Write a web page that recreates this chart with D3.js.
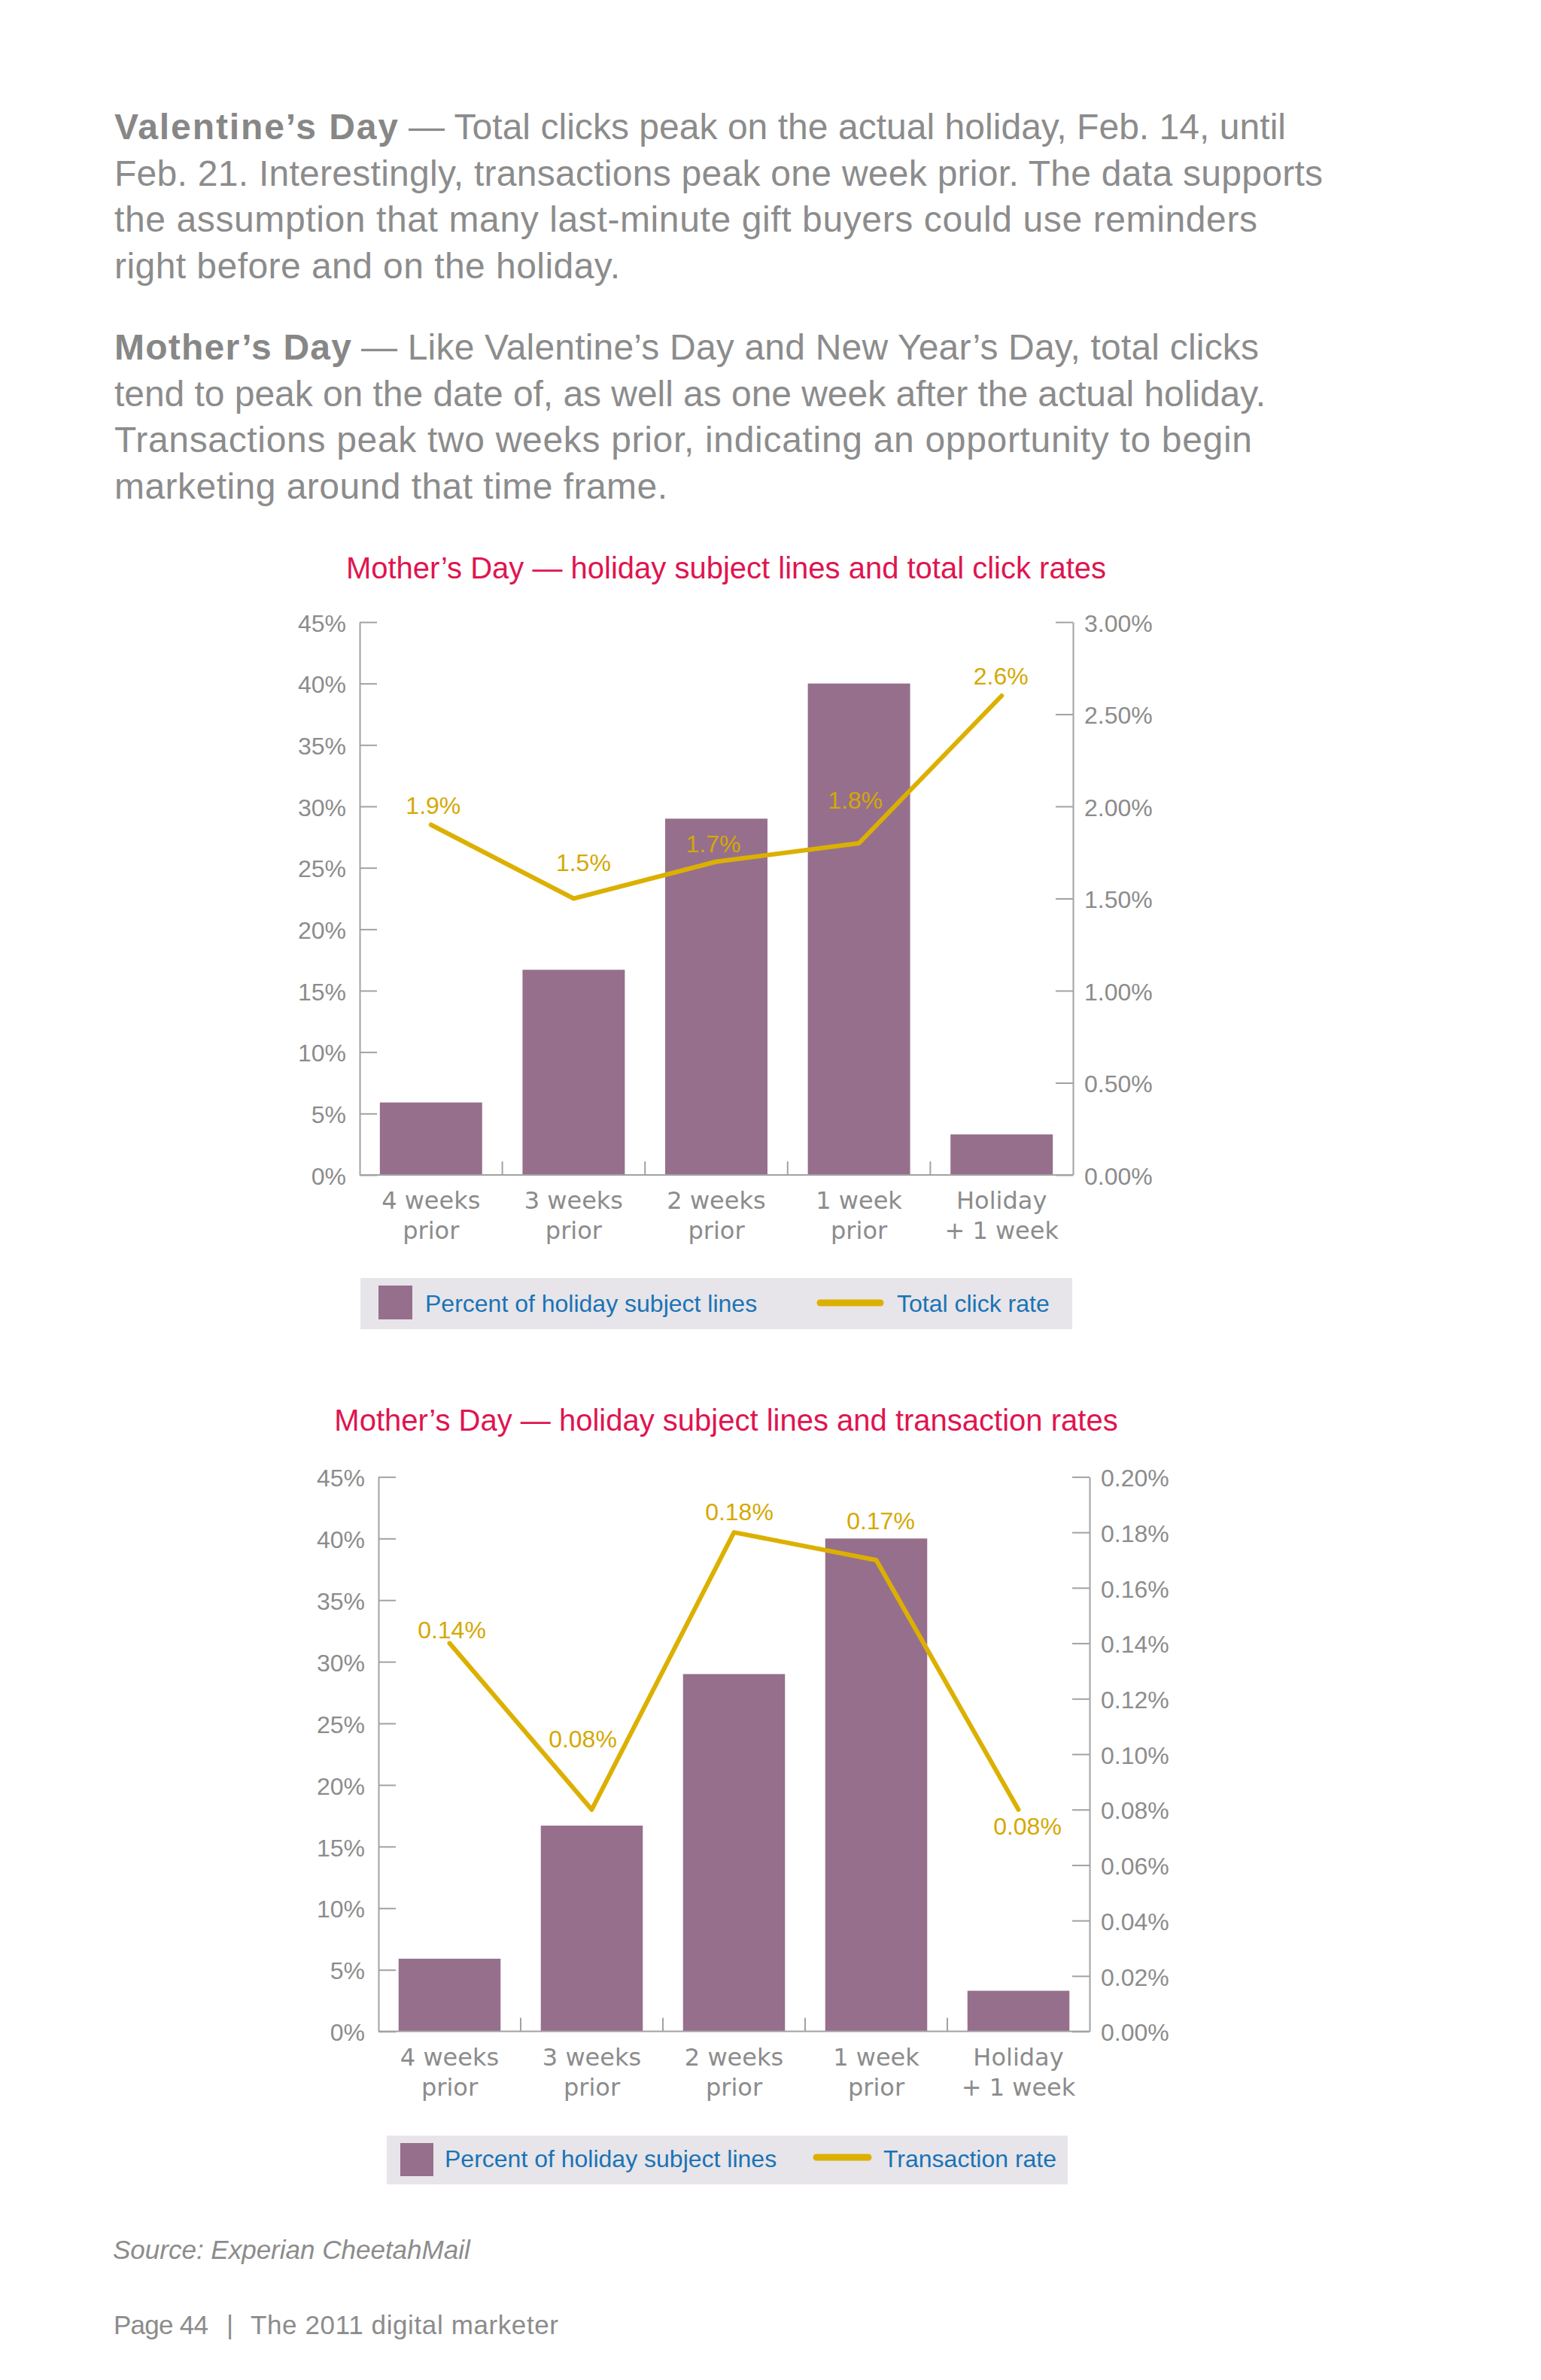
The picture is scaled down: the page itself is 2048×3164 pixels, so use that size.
<!DOCTYPE html>
<html><head><meta charset="utf-8">
<script src="https://cdn.jsdelivr.net/npm/d3@7"></script>
<style>
html,body{margin:0;padding:0;background:#fff;}
svg{display:block;}
</style></head><body>
<svg id="page" width="2048" height="3164"></svg>
<script>
// ---------- DATA ----------
const categories = [["4 weeks","prior"],["3 weeks","prior"],["2 weeks","prior"],["1 week","prior"],["Holiday","+ 1 week"]];
const subjectLinePct = [5.9, 16.7, 29.0, 40.0, 3.3];
const totalClickRate = [1.9, 1.5, 1.7, 1.8, 2.6];
const transactionRate = [0.14, 0.08, 0.18, 0.17, 0.08];
const leftTicks = [0, 5, 10, 15, 20, 25, 30, 35, 40, 45];
const clickTicks = [0, 0.5, 1.0, 1.5, 2.0, 2.5, 3.0];
const transTicks = [0, 0.02, 0.04, 0.06, 0.08, 0.10, 0.12, 0.14, 0.16, 0.18, 0.20];
const clickLabels = ["1.9%", "1.5%", "1.7%", "1.8%", "2.6%"];
const transLabels = ["0.14%", "0.08%", "0.18%", "0.17%", "0.08%"];
const legendBarLabel = "Percent of holiday subject lines";
const title1 = "Mother\u2019s Day \u2014 holiday subject lines and total click rates";
const title2 = "Mother\u2019s Day \u2014 holiday subject lines and transaction rates";
const para1 = [
  [["Valentine\u2019s Day", true], ["\u2014 Total clicks peak on the actual holiday, Feb. 14, until", false]],
  [["Feb. 21. Interestingly, transactions peak one week prior. The data supports", false]],
  [["the assumption that many last-minute gift buyers could use reminders", false]],
  [["right before and on the holiday.", false]]
];
const para2 = [
  [["Mother\u2019s Day", true], ["\u2014 Like Valentine\u2019s Day and New Year\u2019s Day, total clicks", false]],
  [["tend to peak on the date of, as well as one week after the actual holiday.", false]],
  [["Transactions peak two weeks prior, indicating an opportunity to begin", false]],
  [["marketing around that time frame.", false]]
];
const sourceText = "Source: Experian CheetahMail";
const footerLeft = "Page 44";
const footerRight = "The 2011 digital marketer";

// ---------- LAYOUT (text spans: [startX, endX]) ----------
const para1Layout = [[[152, 529], [543, 1709]], [[152, 1758]], [[152, 1671]], [[152, 824]]];
const para2Layout = [[[152, 467], [480, 1673]], [[152, 1682]], [[152, 1664]], [[152, 887]]];

// ---------- STYLE ----------
const SANS = "'Liberation Sans', Arial, Helvetica, sans-serif";
const CAT = "'DejaVu Sans', sans-serif";
const GRAY = "#8c8c8c";
const AXIS = "#a2a2a2";
const BAR = "#966f8d";
const GOLD = "#dcb000";
const GOLDTXT = "#d5a800";
const TITLE = "#e01450";
const BLUE = "#1a73b6";
const LEGBG = "#e7e5e9";

const svg = d3.select("#page");
svg.append("rect").attr("width", 2048).attr("height", 3164).attr("fill", "#fff");

// ---------- PARAGRAPHS ----------
function drawPara(lines, layout, y0) {
  lines.forEach((segs, i) => {
    segs.forEach(([s, b], j) => {
      const [sx, ex] = layout[i][j];
      svg.append("text").attr("x", sx).attr("y", y0 + i * 61.5)
        .attr("font-family", SANS).attr("font-size", 48)
        .attr("font-weight", b ? "bold" : "normal")
        .attr("fill", b ? "#878787" : GRAY)
        .attr("textLength", ex - sx).attr("lengthAdjust", "spacing")
        .text(s);
    });
  });
}
drawPara(para1, para1Layout, 185);
drawPara(para2, para2Layout, 478);

// ---------- CHARTS ----------
function drawChart(cfg) {
  const g = svg.append("g");
  const n = categories.length;
  const x = d3.scaleBand().domain(d3.range(n)).range([cfg.x0, cfg.x1])
    .paddingInner(0.283).paddingOuter(0.1415);
  const bw = x.bandwidth();
  const step = x.step();
  const yL = d3.scaleLinear().domain([0, 45]).range([cfg.y0, cfg.yTop]);
  const yR = d3.scaleLinear().domain([0, cfg.rMax]).range([cfg.y0, cfg.yTop]);

  // title
  g.append("text").attr("x", cfg.titleX).attr("y", cfg.titleY).attr("text-anchor", "middle")
    .attr("font-family", SANS).attr("font-size", 40).attr("fill", TITLE).text(cfg.title);

  // bars
  g.selectAll("rect.bar").data(subjectLinePct).join("rect").attr("class", "bar")
    .attr("x", (d, i) => x(i)).attr("y", d => yL(d))
    .attr("width", bw).attr("height", d => yL(0) - yL(d)).attr("fill", BAR);

  // left axis
  const la = g.append("g").attr("transform", `translate(${cfg.x0},0)`)
    .call(d3.axisLeft(yL).tickValues(leftTicks).tickFormat(d => d + "%")
      .tickSizeInner(-23).tickSizeOuter(0).tickPadding(18));
  // right axis
  const ra = g.append("g").attr("transform", `translate(${cfg.x1},0)`)
    .call(d3.axisRight(yR).tickValues(cfg.rTicks).tickFormat(cfg.rFmt)
      .tickSizeInner(-23).tickSizeOuter(0).tickPadding(15));
  [la, ra].forEach(a => {
    a.select(".domain").attr("stroke", AXIS).attr("stroke-width", 2);
    a.selectAll(".tick line").attr("stroke", AXIS).attr("stroke-width", 2);
    a.selectAll(".tick text").attr("font-family", SANS).attr("font-size", 32)
      .attr("fill", GRAY).attr("dy", "0.38em");
  });

  // baseline + category ticks
  g.append("line").attr("x1", cfg.x0).attr("x2", cfg.x1).attr("y1", cfg.y0).attr("y2", cfg.y0)
    .attr("stroke", AXIS).attr("stroke-width", 2);
  g.selectAll("line.ct").data(d3.range(1, n)).join("line").attr("class", "ct")
    .attr("x1", k => cfg.x0 + k * step).attr("x2", k => cfg.x0 + k * step)
    .attr("y1", cfg.y0).attr("y2", cfg.y0 - 18).attr("stroke", AXIS).attr("stroke-width", 2);

  // category labels
  const cl = g.selectAll("text.cat").data(categories).join("text").attr("class", "cat")
    .attr("text-anchor", "middle").attr("font-family", CAT).attr("font-size", 32).attr("fill", GRAY);
  cl.each(function(d, i) {
    const t = d3.select(this);
    d.forEach((s, j) => t.append("tspan").attr("x", x(i) + bw / 2).attr("y", cfg.y0 + 45 + j * 40).text(s));
  });

  // line
  const line = d3.line().x((d, i) => x(i) + bw / 2).y(d => yR(d));
  g.append("path").datum(cfg.lineVals).attr("d", line).attr("fill", "none")
    .attr("stroke", GOLD).attr("stroke-width", 6).attr("stroke-linejoin", "round").attr("stroke-linecap", "round");

  // data labels
  g.selectAll("text.dl").data(cfg.lineVals).join("text").attr("class", "dl")
    .attr("x", (d, i) => x(i) + bw / 2 + cfg.offsets[i][0])
    .attr("y", (d, i) => yR(d) + cfg.offsets[i][1])
    .attr("text-anchor", "middle").attr("font-family", SANS).attr("font-size", 32)
    .attr("fill", GOLDTXT).text((d, i) => cfg.labels[i]);

  // legend
  const L = cfg.legend;
  g.append("rect").attr("x", L.x).attr("y", L.y).attr("width", L.w).attr("height", L.h).attr("fill", LEGBG);
  g.append("rect").attr("x", L.sx).attr("y", L.sy).attr("width", L.ss).attr("height", L.ss).attr("fill", BAR);
  g.append("text").attr("x", L.tx).attr("y", L.ty).attr("font-family", SANS).attr("font-size", 32)
    .attr("fill", BLUE).text(legendBarLabel);
  g.append("line").attr("x1", L.lx1).attr("x2", L.lx2).attr("y1", L.ly).attr("y2", L.ly)
    .attr("stroke", GOLD).attr("stroke-width", 9).attr("stroke-linecap", "round");
  g.append("text").attr("x", L.l2x).attr("y", L.ty).attr("font-family", SANS).attr("font-size", 32)
    .attr("fill", BLUE).text(cfg.lineName);
}

drawChart({
  x0: 478, x1: 1426, y0: 1562, yTop: 827, rMax: 3,
  title: title1, titleX: 965, titleY: 769,
  rTicks: clickTicks, rFmt: d => d.toFixed(2) + "%",
  lineVals: totalClickRate, labels: clickLabels,
  offsets: [[3, -15], [13, -37], [-4, -13], [-5, -46], [-1, -15]],
  lineName: "Total click rate",
  legend: { x: 479, y: 1699, w: 946, h: 68, sx: 503, sy: 1709, ss: 45, tx: 565, ty: 1744,
            lx1: 1090, lx2: 1170, ly: 1732, l2x: 1192 }
});

drawChart({
  x0: 503, x1: 1448, y0: 2700.6, yTop: 1963.4, rMax: 0.2,
  title: title2, titleX: 965, titleY: 1902,
  rTicks: transTicks, rFmt: d => d.toFixed(2) + "%",
  lineVals: transactionRate, labels: transLabels,
  offsets: [[3, -7], [-12, -83], [7, -16], [6, -41], [12, 33]],
  lineName: "Transaction rate",
  legend: { x: 514, y: 2839, w: 905, h: 65, sx: 532, sy: 2849, ss: 44, tx: 591, ty: 2881,
            lx1: 1085, lx2: 1154, ly: 2868, l2x: 1174 }
});

// ---------- SOURCE / FOOTER ----------
svg.append("text").attr("x", 150).attr("y", 3003).attr("font-family", SANS).attr("font-size", 35)
  .attr("font-style", "italic").attr("fill", GRAY).text(sourceText);
svg.append("text").attr("x", 151).attr("y", 3103).attr("font-family", SANS).attr("font-size", 35)
  .attr("fill", GRAY).attr("textLength", 126).attr("lengthAdjust", "spacing").text(footerLeft);
svg.append("text").attr("x", 301).attr("y", 3103).attr("font-family", SANS).attr("font-size", 35)
  .attr("fill", GRAY).text("|");
svg.append("text").attr("x", 333).attr("y", 3103).attr("font-family", SANS).attr("font-size", 35)
  .attr("fill", GRAY).attr("textLength", 409).attr("lengthAdjust", "spacing").text(footerRight);
</script>
</body></html>
